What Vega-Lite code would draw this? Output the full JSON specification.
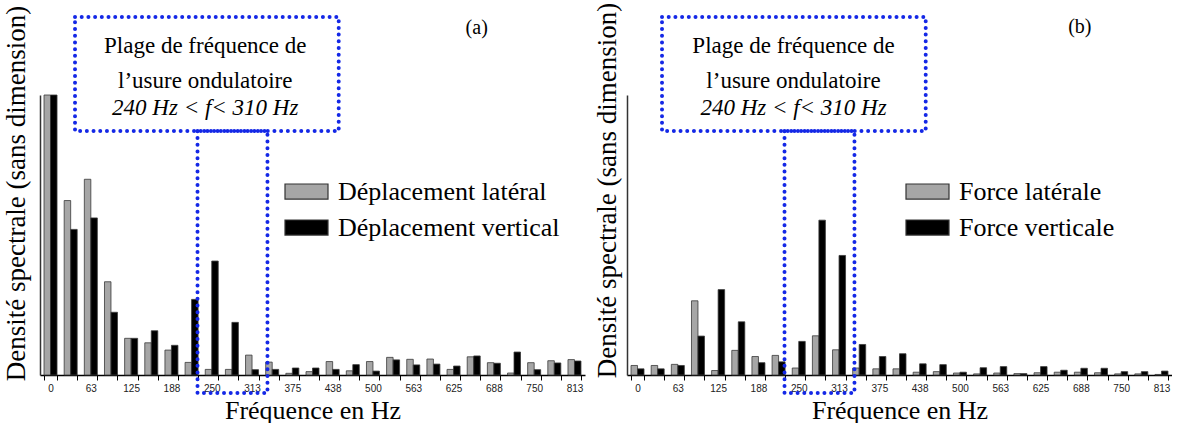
{
  "$schema": "https://vega.github.io/schema/vega-lite/v6.json",
  "background": "white",
  "padding": {"left": 1, "top": 2, "right": 0, "bottom": 0},
  "config": {"view": {"stroke": null}, "concat": {"spacing": 7}},
  "resolve": {"scale": {"color": "independent"}, "legend": {"color": "independent"}},
  "hconcat": [
    {
      "width": 545,
      "height": 280,
      "resolve": {"scale": {"x": "independent", "y": "independent", "xOffset": "independent"}},
      "layer": [
        {
          "data": {"values": [
            {"f":0,"s":"Déplacement latéral","v":100},{"f":0,"s":"Déplacement vertical","v":100},
            {"f":31,"s":"Déplacement latéral","v":62.3},{"f":31,"s":"Déplacement vertical","v":52.0},
            {"f":63,"s":"Déplacement latéral","v":69.9},{"f":63,"s":"Déplacement vertical","v":56.1},
            {"f":94,"s":"Déplacement latéral","v":33.3},{"f":94,"s":"Déplacement vertical","v":22.4},
            {"f":125,"s":"Déplacement latéral","v":13.1},{"f":125,"s":"Déplacement vertical","v":13.1},
            {"f":156,"s":"Déplacement latéral","v":11.5},{"f":156,"s":"Déplacement vertical","v":15.8},
            {"f":188,"s":"Déplacement latéral","v":8.9},{"f":188,"s":"Déplacement vertical","v":10.6},
            {"f":219,"s":"Déplacement latéral","v":4.5},{"f":219,"s":"Déplacement vertical","v":27.0},
            {"f":250,"s":"Déplacement latéral","v":2.0},{"f":250,"s":"Déplacement vertical","v":40.7},
            {"f":281,"s":"Déplacement latéral","v":2.0},{"f":281,"s":"Déplacement vertical","v":18.8},
            {"f":313,"s":"Déplacement latéral","v":7.1},{"f":313,"s":"Déplacement vertical","v":1.9},
            {"f":344,"s":"Déplacement latéral","v":4.6},{"f":344,"s":"Déplacement vertical","v":2.0},
            {"f":375,"s":"Déplacement latéral","v":0.6},{"f":375,"s":"Déplacement vertical","v":2.5},
            {"f":406,"s":"Déplacement latéral","v":1.2},{"f":406,"s":"Déplacement vertical","v":2.5},
            {"f":438,"s":"Déplacement latéral","v":4.8},{"f":438,"s":"Déplacement vertical","v":2.0},
            {"f":469,"s":"Déplacement latéral","v":1.5},{"f":469,"s":"Déplacement vertical","v":3.7},
            {"f":500,"s":"Déplacement latéral","v":4.8},{"f":500,"s":"Déplacement vertical","v":1.4},
            {"f":531,"s":"Déplacement latéral","v":6.3},{"f":531,"s":"Déplacement vertical","v":5.4},
            {"f":563,"s":"Déplacement latéral","v":5.6},{"f":563,"s":"Déplacement vertical","v":3.6},
            {"f":594,"s":"Déplacement latéral","v":5.7},{"f":594,"s":"Déplacement vertical","v":3.9},
            {"f":625,"s":"Déplacement latéral","v":2.0},{"f":625,"s":"Déplacement vertical","v":3.2},
            {"f":656,"s":"Déplacement latéral","v":6.5},{"f":656,"s":"Déplacement vertical","v":6.8},
            {"f":688,"s":"Déplacement latéral","v":4.4},{"f":688,"s":"Déplacement vertical","v":4.2},
            {"f":719,"s":"Déplacement latéral","v":0.7},{"f":719,"s":"Déplacement vertical","v":8.2},
            {"f":750,"s":"Déplacement latéral","v":4.4},{"f":750,"s":"Déplacement vertical","v":1.9},
            {"f":781,"s":"Déplacement latéral","v":5.1},{"f":781,"s":"Déplacement vertical","v":4.3},
            {"f":813,"s":"Déplacement latéral","v":5.5},{"f":813,"s":"Déplacement vertical","v":5.0}
          ]},
          "mark": {"type": "bar", "stroke": "#3a3a3a", "strokeWidth": 0.8},
          "encoding": {
            "x": {"field": "f", "type": "ordinal", "title": "Fréquence en Hz",
              "scale": {"paddingInner": 0.355, "paddingOuter": 0.2},
              "axis": {"labelExpr": "indexof([0,63,125,188,250,313,375,438,500,563,625,688,750,813], datum.value) >= 0 ? datum.label : ''",
                "tickBand": "extent", "labelAngle": 0, "labelFont": "Liberation Sans", "labelFontSize": 10, "labelColor": "#222",
                "labelPadding": 3, "tickSize": 5, "tickColor": "#000", "domainColor": "#000", "domainWidth": 1.5, "grid": false,
                "titleFont": "Liberation Serif", "titleFontSize": 26, "titleFontWeight": "normal", "titleColor": "#000", "titlePadding": 4}},
            "xOffset": {"field": "s", "type": "nominal", "scale": {"paddingInner": 0, "paddingOuter": 0}},
            "y": {"field": "v", "type": "quantitative", "title": "Densité spectrale (sans dimension)",
              "scale": {"domain": [0, 100], "nice": false},
              "axis": {"labels": false, "ticks": false, "grid": false, "domainColor": "#333", "domainWidth": 1.5,
                "titleFont": "Liberation Serif", "titleFontSize": 27, "titleFontWeight": "normal", "titleColor": "#000",
                "titleAngle": 270, "titleAlign": "center", "titleBaseline": "alphabetic", "titleX": -16, "titleY": 98}},
            "color": {"field": "s", "type": "nominal", "scale": {"range": ["#a6a6a6", "#000000"]},
              "legend": {"orient": "none", "legendX": 244, "legendY": 74, "title": null, "padding": 0,
                "symbolType": "M-1,-0.35L1,-0.35L1,0.35L-1,0.35Z", "symbolSize": 1849, "symbolStrokeColor": "#333", "symbolStrokeWidth": 1.2,
                "labelFont": "Liberation Serif", "labelFontSize": 26, "labelColor": "#000", "labelOffset": 9, "rowPadding": 0, "labelLimit": 400}}
          }
        },
        {
          "data": {"values": [{"x": 38, "x2": 447, "y": 87.1, "y2": 127.9}, {"x": 228, "x2": 336.5, "y": -6.4, "y2": 87.1}]},
          "mark": {"type": "rect", "fill": "transparent", "stroke": "#1428e6", "strokeWidth": 4, "strokeDash": [0, 6.7], "strokeCap": "round"},
          "encoding": {
            "x": {"field": "x", "type": "quantitative", "scale": {"domain": [-16.3, 829], "nice": false, "zero": false}, "axis": null},
            "x2": {"field": "x2"},
            "y": {"field": "y", "type": "quantitative", "scale": {"domain": [0, 100], "nice": false, "zero": false}, "axis": null},
            "y2": {"field": "y2"}
          }
        },
        {
          "data": {"values": [{"x": 240, "y": 115, "t": "Plage de fréquence de"}, {"x": 240, "y": 102.5, "t": "l’usure ondulatoire"}]},
          "mark": {"type": "text", "font": "Liberation Serif", "fontSize": 23, "align": "center", "baseline": "alphabetic", "color": "#000"},
          "encoding": {
            "x": {"field": "x", "type": "quantitative", "scale": {"domain": [-16.3, 829], "nice": false, "zero": false}, "axis": null},
            "y": {"field": "y", "type": "quantitative", "scale": {"domain": [0, 100], "nice": false, "zero": false}, "axis": null},
            "text": {"field": "t"}
          }
        },
        {
          "data": {"values": [{"x": 240, "y": 92.9, "t": "240 Hz < f< 310 Hz"}]},
          "mark": {"type": "text", "font": "Liberation Serif", "fontSize": 23, "fontStyle": "italic", "align": "center", "baseline": "alphabetic", "color": "#000"},
          "encoding": {
            "x": {"field": "x", "type": "quantitative", "scale": {"domain": [-16.3, 829], "nice": false, "zero": false}, "axis": null},
            "y": {"field": "y", "type": "quantitative", "scale": {"domain": [0, 100], "nice": false, "zero": false}, "axis": null},
            "text": {"field": "t"}
          }
        },
        {
          "data": {"values": [{"x": 661, "y": 121.8, "t": "(a)"}]},
          "mark": {"type": "text", "font": "Liberation Serif", "fontSize": 20, "align": "center", "baseline": "alphabetic", "color": "#000"},
          "encoding": {
            "x": {"field": "x", "type": "quantitative", "scale": {"domain": [-16.3, 829], "nice": false, "zero": false}, "axis": null},
            "y": {"field": "y", "type": "quantitative", "scale": {"domain": [0, 100], "nice": false, "zero": false}, "axis": null},
            "text": {"field": "t"}
          }
        }
      ]
    },
    {
      "width": 545,
      "height": 280,
      "resolve": {"scale": {"x": "independent", "y": "independent", "xOffset": "independent"}},
      "layer": [
        {
          "data": {"values": [
            {"f":0,"s":"Force latérale","v":3.4},{"f":0,"s":"Force verticale","v":2.2},
            {"f":31,"s":"Force latérale","v":3.4},{"f":31,"s":"Force verticale","v":2.2},
            {"f":63,"s":"Force latérale","v":3.8},{"f":63,"s":"Force verticale","v":3.4},
            {"f":94,"s":"Force latérale","v":26.5},{"f":94,"s":"Force verticale","v":13.9},
            {"f":125,"s":"Force latérale","v":1.6},{"f":125,"s":"Force verticale","v":30.5},
            {"f":156,"s":"Force latérale","v":8.8},{"f":156,"s":"Force verticale","v":19.0},
            {"f":188,"s":"Force latérale","v":6.6},{"f":188,"s":"Force verticale","v":4.4},
            {"f":219,"s":"Force latérale","v":7.0},{"f":219,"s":"Force verticale","v":4.7},
            {"f":250,"s":"Force latérale","v":2.5},{"f":250,"s":"Force verticale","v":12.0},
            {"f":281,"s":"Force latérale","v":14.0},{"f":281,"s":"Force verticale","v":55.3},
            {"f":313,"s":"Force latérale","v":9.0},{"f":313,"s":"Force verticale","v":42.7},
            {"f":344,"s":"Force latérale","v":2.5},{"f":344,"s":"Force verticale","v":10.9},
            {"f":375,"s":"Force latérale","v":2.2},{"f":375,"s":"Force verticale","v":6.6},
            {"f":406,"s":"Force latérale","v":2.2},{"f":406,"s":"Force verticale","v":7.6},
            {"f":438,"s":"Force latérale","v":1.0},{"f":438,"s":"Force verticale","v":4.0},
            {"f":469,"s":"Force latérale","v":1.2},{"f":469,"s":"Force verticale","v":3.7},
            {"f":500,"s":"Force latérale","v":0.7},{"f":500,"s":"Force verticale","v":1.0},
            {"f":531,"s":"Force latérale","v":0.4},{"f":531,"s":"Force verticale","v":2.6},
            {"f":563,"s":"Force latérale","v":0.7},{"f":563,"s":"Force verticale","v":3.0},
            {"f":594,"s":"Force latérale","v":0.5},{"f":594,"s":"Force verticale","v":0.5},
            {"f":625,"s":"Force latérale","v":0.8},{"f":625,"s":"Force verticale","v":3.0},
            {"f":656,"s":"Force latérale","v":1.0},{"f":656,"s":"Force verticale","v":1.7},
            {"f":688,"s":"Force latérale","v":1.0},{"f":688,"s":"Force verticale","v":2.4},
            {"f":719,"s":"Force latérale","v":0.8},{"f":719,"s":"Force verticale","v":2.4},
            {"f":750,"s":"Force latérale","v":0.4},{"f":750,"s":"Force verticale","v":1.2},
            {"f":781,"s":"Force latérale","v":0.4},{"f":781,"s":"Force verticale","v":1.2},
            {"f":813,"s":"Force latérale","v":0.2},{"f":813,"s":"Force verticale","v":1.4}
          ]},
          "mark": {"type": "bar", "stroke": "#3a3a3a", "strokeWidth": 0.8},
          "encoding": {
            "x": {"field": "f", "type": "ordinal", "title": "Fréquence en Hz",
              "scale": {"paddingInner": 0.355, "paddingOuter": 0.2},
              "axis": {"labelExpr": "indexof([0,63,125,188,250,313,375,438,500,563,625,688,750,813], datum.value) >= 0 ? datum.label : ''",
                "tickBand": "extent", "labelAngle": 0, "labelFont": "Liberation Sans", "labelFontSize": 10, "labelColor": "#222",
                "labelPadding": 3, "tickSize": 5, "tickColor": "#000", "domainColor": "#000", "domainWidth": 1.5, "grid": false,
                "titleFont": "Liberation Serif", "titleFontSize": 26, "titleFontWeight": "normal", "titleColor": "#000", "titlePadding": 4}},
            "xOffset": {"field": "s", "type": "nominal", "scale": {"paddingInner": 0, "paddingOuter": 0}},
            "y": {"field": "v", "type": "quantitative", "title": "Densité spectrale (sans dimension)",
              "scale": {"domain": [0, 100], "nice": false},
              "axis": {"labels": false, "ticks": false, "grid": false, "domainColor": "#333", "domainWidth": 1.5,
                "titleFont": "Liberation Serif", "titleFontSize": 27, "titleFontWeight": "normal", "titleColor": "#000",
                "titleAngle": 270, "titleAlign": "center", "titleBaseline": "alphabetic", "titleX": -12, "titleY": 95}},
            "color": {"field": "s", "type": "nominal", "scale": {"range": ["#a6a6a6", "#000000"]},
              "legend": {"orient": "none", "legendX": 278, "legendY": 74, "title": null, "padding": 0,
                "symbolType": "M-1,-0.35L1,-0.35L1,0.35L-1,0.35Z", "symbolSize": 1849, "symbolStrokeColor": "#333", "symbolStrokeWidth": 1.2,
                "labelFont": "Liberation Serif", "labelFontSize": 26, "labelColor": "#000", "labelOffset": 9, "rowPadding": 0, "labelLimit": 400}}
          }
        },
        {
          "data": {"values": [{"x": 38, "x2": 447, "y": 87.1, "y2": 127.9}, {"x": 228, "x2": 336.5, "y": -6.4, "y2": 87.1}]},
          "mark": {"type": "rect", "fill": "transparent", "stroke": "#1428e6", "strokeWidth": 4, "strokeDash": [0, 6.7], "strokeCap": "round"},
          "encoding": {
            "x": {"field": "x", "type": "quantitative", "scale": {"domain": [-16.3, 829], "nice": false, "zero": false}, "axis": null},
            "x2": {"field": "x2"},
            "y": {"field": "y", "type": "quantitative", "scale": {"domain": [0, 100], "nice": false, "zero": false}, "axis": null},
            "y2": {"field": "y2"}
          }
        },
        {
          "data": {"values": [{"x": 242, "y": 115, "t": "Plage de fréquence de"}, {"x": 242, "y": 102.5, "t": "l’usure ondulatoire"}]},
          "mark": {"type": "text", "font": "Liberation Serif", "fontSize": 23, "align": "center", "baseline": "alphabetic", "color": "#000"},
          "encoding": {
            "x": {"field": "x", "type": "quantitative", "scale": {"domain": [-16.3, 829], "nice": false, "zero": false}, "axis": null},
            "y": {"field": "y", "type": "quantitative", "scale": {"domain": [0, 100], "nice": false, "zero": false}, "axis": null},
            "text": {"field": "t"}
          }
        },
        {
          "data": {"values": [{"x": 242, "y": 92.9, "t": "240 Hz < f< 310 Hz"}]},
          "mark": {"type": "text", "font": "Liberation Serif", "fontSize": 23, "fontStyle": "italic", "align": "center", "baseline": "alphabetic", "color": "#000"},
          "encoding": {
            "x": {"field": "x", "type": "quantitative", "scale": {"domain": [-16.3, 829], "nice": false, "zero": false}, "axis": null},
            "y": {"field": "y", "type": "quantitative", "scale": {"domain": [0, 100], "nice": false, "zero": false}, "axis": null},
            "text": {"field": "t"}
          }
        },
        {
          "data": {"values": [{"x": 686, "y": 122.2, "t": "(b)"}]},
          "mark": {"type": "text", "font": "Liberation Serif", "fontSize": 20, "align": "center", "baseline": "alphabetic", "color": "#000"},
          "encoding": {
            "x": {"field": "x", "type": "quantitative", "scale": {"domain": [-16.3, 829], "nice": false, "zero": false}, "axis": null},
            "y": {"field": "y", "type": "quantitative", "scale": {"domain": [0, 100], "nice": false, "zero": false}, "axis": null},
            "text": {"field": "t"}
          }
        }
      ]
    }
  ]
}
